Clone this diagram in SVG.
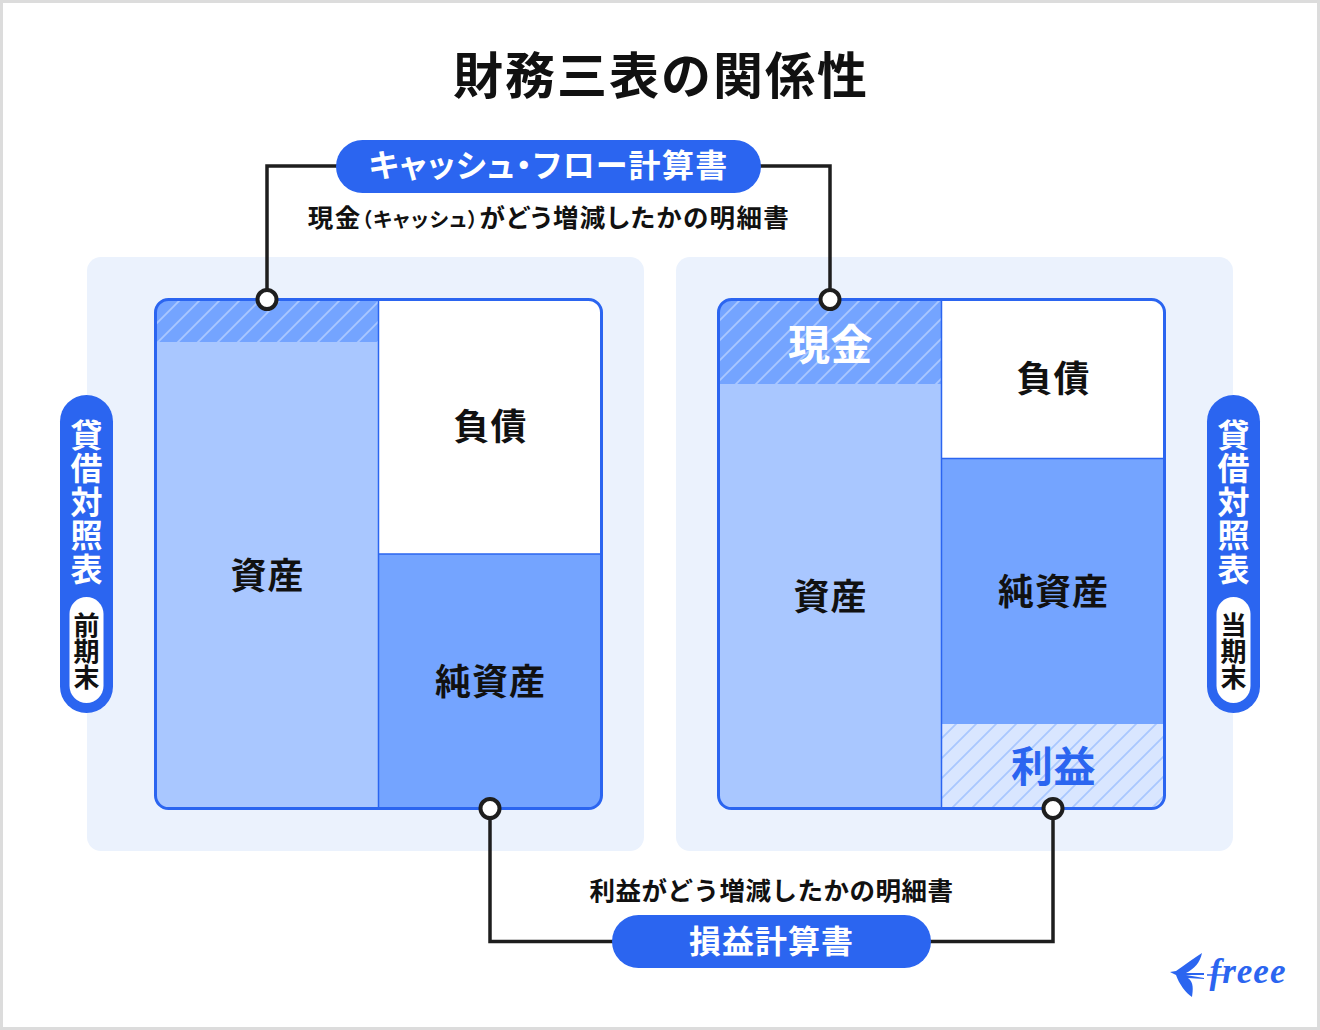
<svg xmlns="http://www.w3.org/2000/svg" width="1320" height="1030" viewBox="0 0 1320 1030">
<style>
text{font-family:"Noto Sans CJK JP","Noto Sans",sans-serif;font-weight:700;text-anchor:middle;fill:#111}
.w{fill:#fff}.pill{fill:#2b65f0}
.panel{fill:#ebf2fd}
.box{fill:none;stroke:#2b65f0;stroke-width:3}
.div{stroke:#2b65f0;stroke-width:1.5;fill:none}
.conn{fill:none;stroke:#1e1e1e;stroke-width:3.5}
.dot{fill:#fff;stroke:#1e1e1e;stroke-width:4}
.big{font-size:36px;letter-spacing:1px}
.v1{font-size:32px;letter-spacing:1.500px;writing-mode:vertical-rl}
.v2{font-size:26px;writing-mode:vertical-rl}
.sub{font-size:25.500px;letter-spacing:0.500px}
.palt{font-feature-settings:"palt"}
</style>
<defs>
<pattern id="hatchA" width="20" height="20" patternUnits="userSpaceOnUse"><path d="M-5 25L25-5M-5 5L5-5M15 25L25 15" stroke="#a9c7ff" stroke-width="1.800" fill="none"/></pattern>
<clipPath id="cl"><rect x="155.500" y="299.500" width="446" height="509" rx="13"/></clipPath>
<clipPath id="cr"><rect x="718.500" y="299.500" width="446" height="509" rx="13"/></clipPath>
</defs>
<rect x="1.500" y="1.500" width="1317" height="1027" fill="#fff" stroke="#dcdcdc" stroke-width="3"/>
<text id="title" x="661" y="94" font-size="50" letter-spacing="2">財務三表の関係性</text>
<rect class="panel" x="87" y="257" width="557" height="594" rx="14"/>
<rect class="panel" x="676" y="257" width="557" height="594" rx="14"/>
<g id="bs-prev">
<g clip-path="url(#cl)">
<rect x="155" y="299" width="224" height="510" fill="#a9c7ff"/>
<rect x="155" y="299" width="224" height="43" fill="#74a4ff"/>
<rect x="155" y="299" width="224" height="43" fill="url(#hatchA)"/>
<rect x="378" y="299" width="224" height="255" fill="#fff"/>
<rect x="378" y="554" width="224" height="255" fill="#74a4ff"/>
<path class="div" d="M378.500 299V809M378.500 554H602"/>
</g>
<rect class="box" x="155.500" y="299.500" width="446" height="509" rx="13"/>
<text class="big" x="267.500" y="589">資産</text>
<text class="big" x="490.500" y="440">負債</text>
<text class="big" x="490.500" y="695">純資産</text>
</g>
<g id="bs-curr">
<g clip-path="url(#cr)">
<rect x="718" y="299" width="224" height="510" fill="#a9c7ff"/>
<rect x="718" y="299" width="224" height="85" fill="#74a4ff"/>
<rect x="718" y="299" width="224" height="85" fill="url(#hatchA)"/>
<rect x="941" y="299" width="224" height="159" fill="#fff"/>
<rect x="941" y="458" width="224" height="266" fill="#74a4ff"/>
<rect x="941" y="724" width="224" height="85" fill="#d9e6ff"/>
<rect x="941" y="724" width="224" height="85" fill="url(#hatchA)"/>
<path class="div" d="M941.500 299V809M941.500 458.500H1165"/>
</g>
<rect class="box" x="718.500" y="299.500" width="446" height="509" rx="13"/>
<text class="w" x="830.500" y="360" font-size="42" letter-spacing="0.500">現金</text>
<text class="big" x="1053.500" y="392">負債</text>
<text class="big" x="830.500" y="610">資産</text>
<text class="big" x="1053.500" y="605">純資産</text>
<text x="1053.500" y="782" font-size="42" letter-spacing="0.500" style="fill:#2b65f0">利益</text>
</g>
<g id="connectors">
<path class="conn" d="M267 299V166H340M757 166H830V299"/>
<path class="conn" d="M490 808V941.500H616M927 941.500H1053V808"/>
<circle class="dot" cx="267" cy="299.500" r="9.500"/>
<circle class="dot" cx="830" cy="299.500" r="9.500"/>
<circle class="dot" cx="490" cy="808.500" r="9.500"/>
<circle class="dot" cx="1053" cy="808.500" r="9.500"/>
</g>
<g id="cf">
<rect class="pill" x="336" y="140" width="425" height="53" rx="26.500"/>
<text class="w palt" x="548.500" y="177" font-size="32" letter-spacing="1.300">キャッシュ・フロー計算書</text>
<text x="549" y="227" class="sub palt" letter-spacing="1.400" style="letter-spacing:1.400px">現金<tspan font-size="20" style="letter-spacing:1.400px">（キャッシュ）</tspan>がどう増減したかの明細書</text>
</g>
<g id="pl">
<text x="771.500" y="900" class="sub">利益がどう増減したかの明細書</text>
<rect class="pill" x="612" y="915" width="319" height="53" rx="26.500"/>
<text class="w" x="771.500" y="952.500" font-size="32" letter-spacing="1">損益計算書</text>
</g>
<g id="tag-prev">
<rect class="pill" x="60" y="395" width="53" height="318" rx="26.500"/>
<rect x="69.500" y="597" width="34" height="106" rx="17" fill="#fff"/>
<text class="w v1" x="86.500" y="502.500">貸借対照表</text>
<text class="v2" x="86.500" y="651">前期末</text>
</g>
<g id="tag-curr">
<rect class="pill" x="1207" y="395" width="53" height="318" rx="26.500"/>
<rect x="1216.500" y="597" width="34" height="106" rx="17" fill="#fff"/>
<text class="w v1" x="1233.500" y="502.500">貸借対照表</text>
<text class="v2" x="1233.500" y="651">当期末</text>
</g>
<g id="logo">
<path d="M1170 972L1176 971C1186 964 1194 958 1202 953C1200 963 1194 969 1186 973L1204 973L1204 975L1186 975L1204 978L1204 979L1188 978C1194 982 1193 990 1192 997C1186 993 1179 984 1176 975Z" fill="#2b65f0"/>
<path d="M1207 975H1226" stroke="#2b65f0" stroke-width="1.500"/>
<text x="1248" y="983" font-size="35" letter-spacing="1" style="font-family:'Liberation Serif',serif;font-style:italic;fill:#2b65f0" font-weight="400">freee</text>
</g>
</svg>
